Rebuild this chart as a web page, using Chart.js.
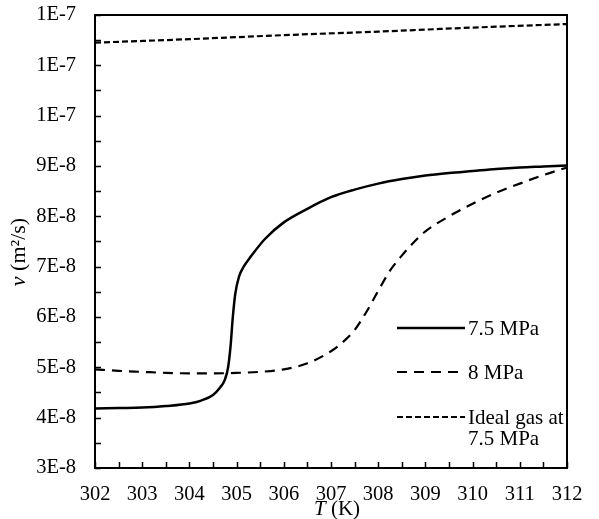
<!DOCTYPE html>
<html>
<head>
<meta charset="utf-8">
<script src="https://cdn.jsdelivr.net/npm/chart.js@4/dist/chart.umd.min.js"></script>
<style>
html,body{margin:0;padding:0;background:#fff;}
canvas{display:block;}
</style>
</head>
<body>
<canvas id="c" width="599" height="519"></canvas>
<script>
// ---- data (T in K, kinematic viscosity in m2/s) ----
const tempsA = [302, 302.5, 303, 303.5, 304, 304.25, 304.5, 304.65, 304.75, 304.82, 304.87, 304.92, 304.97, 305.05, 305.15, 305.3, 305.6, 306, 306.5, 307, 307.5, 308, 308.5, 309, 309.5, 310, 310.5, 311, 311.5, 312];
const nu75MPa = [4.18e-8, 4.19e-8, 4.20e-8, 4.23e-8, 4.28e-8, 4.34e-8, 4.45e-8, 4.60e-8, 4.75e-8, 5.00e-8, 5.40e-8, 6.00e-8, 6.45e-8, 6.80e-8, 7.00e-8, 7.20e-8, 7.55e-8, 7.88e-8, 8.15e-8, 8.38e-8, 8.53e-8, 8.65e-8, 8.74e-8, 8.81e-8, 8.86e-8, 8.90e-8, 8.94e-8, 8.97e-8, 8.99e-8, 9.01e-8];

const tempsB = [302, 302.5, 303, 303.5, 304, 304.5, 305, 305.5, 306, 306.5, 307, 307.25, 307.5, 307.75, 308, 308.25, 308.5, 308.75, 309, 309.5, 310, 310.5, 311, 311.5, 312];
const nu8MPa = [4.96e-8, 4.93e-8, 4.91e-8, 4.89e-8, 4.88e-8, 4.88e-8, 4.89e-8, 4.91e-8, 4.96e-8, 5.08e-8, 5.32e-8, 5.50e-8, 5.74e-8, 6.10e-8, 6.52e-8, 6.92e-8, 7.22e-8, 7.48e-8, 7.70e-8, 8.00e-8, 8.25e-8, 8.47e-8, 8.65e-8, 8.82e-8, 8.97e-8];

const tempsC = [302, 304, 306, 308, 310, 312];
const nuIdeal = [1.145e-7, 1.152e-7, 1.160e-7, 1.167e-7, 1.175e-7, 1.182e-7];

const seriesNames = ['7.5 MPa', '8 MPa', 'Ideal gas at 7.5 MPa'];
const legendLines = [['7.5 MPa'], ['8 MPa'], ['Ideal gas at', '7.5 MPa']];

const xTickValues = [302, 303, 304, 305, 306, 307, 308, 309, 310, 311, 312];
const yTickValues = [3e-8, 4e-8, 5e-8, 6e-8, 7e-8, 8e-8, 9e-8, 1.0e-7, 1.1e-7, 1.2e-7];
const yTickLabels = ['3E-8', '4E-8', '5E-8', '6E-8', '7E-8', '8E-8', '9E-8', '1E-7', '1E-7', '1E-7'];
const xMinorStep = 0.5;
const yMinorStep = 0.5e-8;

const FONT = "'Liberation Serif', 'Times New Roman', serif";

function pts(xs, ys) { return xs.map((x, i) => ({ x: x, y: ys[i] })); }

const framePlugin = {
  id: 'frame',
  afterDraw(chart) {
    const ctx = chart.ctx, a = chart.chartArea;
    const xs = chart.scales.x, ys = chart.scales.y;
    ctx.save();
    ctx.strokeStyle = '#000';
    ctx.lineWidth = 2;
    ctx.strokeRect(a.left, a.top, a.right - a.left, a.bottom - a.top);
    ctx.lineWidth = 1.5;
    ctx.beginPath();
    for (let k = 0; ; k++) {
      const v = xs.min + k * xMinorStep;
      if (v > xs.max + 1e-9) break;
      const p = Math.round(xs.getPixelForValue(v)) + 0.5;
      ctx.moveTo(p, a.bottom);
      ctx.lineTo(p, a.bottom - 6);
    }
    for (let k = 0; ; k++) {
      const v = ys.min + k * yMinorStep;
      if (v > ys.max + 1e-12) break;
      const p = Math.round(ys.getPixelForValue(v)) + 0.5;
      ctx.moveTo(a.left, p);
      ctx.lineTo(a.left + 6, p);
    }
    ctx.stroke();

    // axis titles
    ctx.fillStyle = '#000';
    ctx.textBaseline = 'middle';
    const f1 = 'italic 21px ' + FONT, f2 = '21px ' + FONT;
    ctx.font = f1; const wT = ctx.measureText('T').width;
    ctx.font = f2; const wK = ctx.measureText(' (K)').width;
    const cx = (a.left + a.right) / 2 + 6;
    let sx = cx - (wT + wK) / 2;
    ctx.textAlign = 'left';
    ctx.font = f1; ctx.fillText('T', sx, 509);
    ctx.font = f2; ctx.fillText(' (K)', sx + wT, 509);
    // y title rotated
    const g1 = 'italic 22px ' + FONT, g2 = '22px ' + FONT;
    ctx.save();
    ctx.translate(19, 252);
    ctx.rotate(-Math.PI / 2);
    ctx.font = g1; const wN = ctx.measureText('\u03BD').width;
    ctx.font = g2; const wU = ctx.measureText(' (m\u00B2/s)').width;
    sx = -(wN + wU) / 2;
    ctx.font = g1; ctx.fillText('\u03BD', sx, 0);
    ctx.font = g2; ctx.fillText(' (m\u00B2/s)', sx + wN, 0);
    ctx.restore();

    // legend
    const rows = [328, 372, 417];
    chart.data.datasets.forEach((ds, i) => {
      const y = rows[i];
      ctx.save();
      ctx.strokeStyle = ds.borderColor;
      ctx.lineWidth = ds.borderWidth;
      ctx.setLineDash(ds.borderDash || []);
      ctx.beginPath();
      ctx.moveTo(397, y);
      ctx.lineTo(465, y);
      ctx.stroke();
      ctx.restore();
      ctx.font = '21px ' + FONT;
      ctx.textAlign = 'left';
      legendLines[i].forEach((t, j) => ctx.fillText(t, 468, y + 1 + j * 21));
    });
    ctx.restore();
  }
};

new Chart(document.getElementById('c'), {
  type: 'line',
  data: {
    datasets: [
      { label: seriesNames[0], data: pts(tempsA, nu75MPa), borderColor: '#000', borderWidth: 2.5, pointRadius: 0, cubicInterpolationMode: 'monotone', fill: false },
      { label: seriesNames[1], data: pts(tempsB, nu8MPa), borderColor: '#000', borderWidth: 2.2, borderDash: [10, 7], pointRadius: 0, cubicInterpolationMode: 'monotone', fill: false },
      { label: seriesNames[2], data: pts(tempsC, nuIdeal), borderColor: '#000', borderWidth: 2.2, borderDash: [6, 3], pointRadius: 0, cubicInterpolationMode: 'monotone', fill: false }
    ]
  },
  options: {
    responsive: false,
    animation: false,
    layout: { padding: { top: 15, right: 32, left: 0, bottom: 0 } },
    plugins: { legend: { display: false }, tooltip: { enabled: false } },
    scales: {
      x: {
        type: 'linear', min: 302, max: 312,
        afterBuildTicks: s => { s.ticks = xTickValues.map(v => ({ value: v })); },
        afterFit: s => { s.height = 51; s.paddingLeft = 0; s.paddingRight = 0; },
        grid: { display: false, drawTicks: false, tickLength: 0 }, border: { display: false },
        ticks: { color: '#000', font: { family: FONT, size: 20.5 }, padding: 14, maxRotation: 0, autoSkip: false }
      },
      y: {
        type: 'linear', min: 3e-8, max: 1.2e-7,
        afterBuildTicks: s => { s.ticks = yTickValues.map(v => ({ value: v })); },
        afterFit: s => { s.width = 95; s.paddingTop = 0; s.paddingBottom = 0; },
        grid: { display: false, drawTicks: false, tickLength: 0 }, border: { display: false },
        ticks: { color: '#000', font: { family: FONT, size: 20.5 }, padding: 19, autoSkip: false,
          callback: (v, i) => yTickLabels[i] }
      }
    }
  },
  plugins: [framePlugin]
});
</script>
</body>
</html>
